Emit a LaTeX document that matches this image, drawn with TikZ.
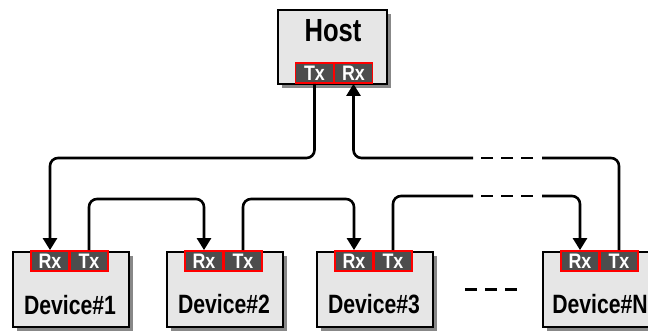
\documentclass[tikz,border=0pt]{standalone}
\usepackage{fontspec}
\setmainfont{Liberation Sans}
\newfontfamily\cnd[FakeStretch=0.8]{Liberation Sans}
\newfontfamily\pcnd[FakeStretch=0.85]{Liberation Sans}
\usetikzlibrary{arrows.meta,shadows}
\definecolor{boxgray}{HTML}{E6E6E6}
\definecolor{shadegray}{HTML}{888888}
\definecolor{portgray}{HTML}{4D4D4D}
\begin{document}
\begin{tikzpicture}[x=1pt,y=-1pt,
  box/.style={draw=black,line width=2.4pt,fill=boxgray,anchor=north west,
    drop shadow={shadow xshift=3.5pt,shadow yshift=-3.5pt,fill=shadegray,opacity=1}},
  dev/.style={box,minimum width=116pt,minimum height=75pt},
  port/.style={draw=red,line width=1.8pt,fill=portgray,text=white,
    font=\pcnd\bfseries\fontsize{21}{21}\selectfont,
    minimum width=38pt,minimum height=20pt,inner sep=0pt},
  conn/.style={line width=2.6pt,rounded corners=8pt},
  tip/.style={-{Triangle[width=14pt,length=12pt]}},
  gap/.style={line width=2.6pt,dash pattern=on 12pt off 8pt},
  lbl/.style={font=\cnd\bfseries\fontsize{26.5}{26.5}\selectfont,inner sep=0pt}]
\useasboundingbox (0,0) rectangle (648,330);
\clip (0,0) rectangle (648,330);

% Host
\node[box,minimum width=109pt,minimum height=74pt] (host) at (277,9) {};
\node[lbl,font=\cnd\bfseries\fontsize{32}{32}\selectfont] (hostlbl) at (333,31) {Host};
\node[port] (hTx) at (314.5,73) {Tx};
\node[port] (hRx) at (353.5,73) {Rx};

% Devices
\node[dev] (d1) at (12,251) {};
\node[dev] (d2) at (166,251) {};
\node[dev] (d3) at (316,251) {};
\node[dev] (dN) at (542,251) {};

\node[port] (d1Rx) at (50,261) {Rx};
\node[port] (d1Tx) at (89,261) {Tx};
\node[port] (d2Rx) at (204,261) {Rx};
\node[port] (d2Tx) at (243,261) {Tx};
\node[port] (d3Rx) at (354,261) {Rx};
\node[port] (d3Tx) at (393,261) {Tx};
\node[port] (dNRx) at (580,261) {Rx};
\node[port] (dNTx) at (619,261) {Tx};

\node[lbl] (d1lbl) at (70,305) {Device\#1};
\node[lbl] (d2lbl) at (224,304) {Device\#2};
\node[lbl] (d3lbl) at (374,304) {Device\#3};
\node[lbl] (dNlbl) at (600,304) {Device\#N};

% helper coordinates
\coordinate (upY) at (0,158);
\coordinate (loY) at (0,199);
\coordinate (ua) at (473,158);
\coordinate (ub) at (542,158);
\coordinate (uda) at (481,158);
\coordinate (udb) at (533,158);
\coordinate (la) at (473,196);
\coordinate (lb) at (542,196);
\coordinate (lda) at (481,196);
\coordinate (ldb) at (533,196);
\coordinate (ma) at (465,289);
\coordinate (mb) at (517,289);

% connectors
\draw[conn,tip] (hTx.south) -- (hTx.south |- upY) -| (d1Rx.north);
\draw[conn,tip] (d1Tx.north) -- (d1Tx.north |- loY) -| (d2Rx.north);
\draw[conn,tip] (d2Tx.north) -- (d2Tx.north |- loY) -| (d3Rx.north);
\draw[conn] (d3Tx.north) |- (la);
\draw[gap] (lda) -- (ldb);
\draw[conn,tip] (lb) -| (dNRx.north);
\draw[conn] (dNTx.north) |- (ub);
\draw[gap] (uda) -- (udb);
\draw[conn,tip] (ua) -| (hRx.south);
\draw[gap,line width=3pt] (ma) -- (mb);
\end{tikzpicture}
\end{document}
